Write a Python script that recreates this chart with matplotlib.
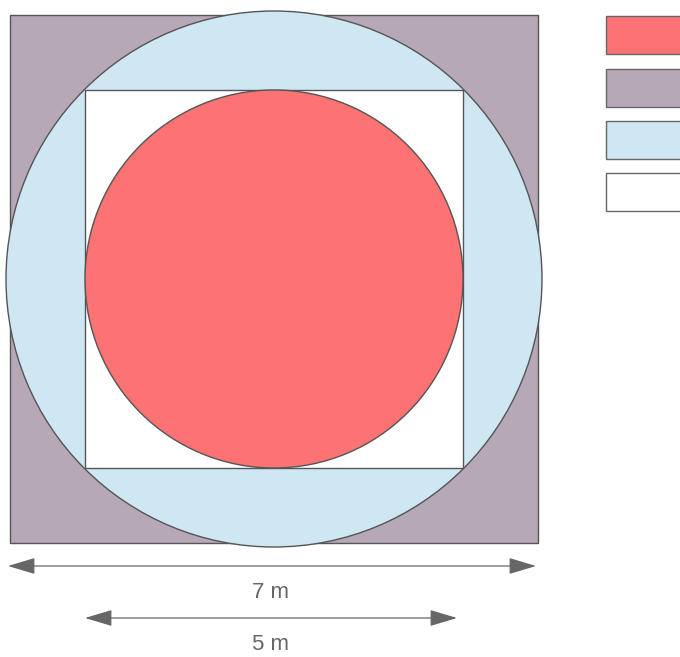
import matplotlib.pyplot as plt
from matplotlib.patches import Rectangle, Circle

# geometry in pixel units (figure is drawn 1:1)
center = (274, 279)
outer_side = 528
inner_side = 378
outer_radius = 268
inner_radius = 189

fill_colors = ["#fd7272", "#b7a8b8", "#cfe7f3", "#ffffff"]
legend_y = [16, 69, 121, 173]
legend_h = 38

arrow_labels = ["7 m", "5 m"]
arrow_x = [(8, 536), (85, 457)]
arrow_y = [566, 618]
label_y = [592, 644]

edge = "#555555"

fig = plt.figure(figsize=(6.8, 6.57), dpi=100)
ax = fig.add_axes([0, 0, 1, 1])
ax.set_xlim(0, 680)
ax.set_ylim(657, 0)
ax.axis("off")

cx, cy = center
ax.add_patch(Rectangle((cx - outer_side / 2, cy - outer_side / 2), outer_side, outer_side,
                       facecolor=fill_colors[1], edgecolor=edge, lw=1))
ax.add_patch(Circle(center, outer_radius, facecolor=fill_colors[2], edgecolor=edge, lw=1))
ax.add_patch(Rectangle((cx - inner_side / 2, cy - inner_side / 2), inner_side, inner_side,
                       facecolor=fill_colors[3], edgecolor=edge, lw=1))
ax.add_patch(Circle(center, inner_radius, facecolor=fill_colors[0], edgecolor=edge, lw=1))

# legend swatches (cut off at the right edge)
for y, c in zip(legend_y, fill_colors):
    ax.add_patch(Rectangle((606, y), 90, legend_h, facecolor=c, edgecolor="#666666", lw=1,
                           clip_on=True))

# dimension arrows
for (x0, x1), y, ly, lab in zip(arrow_x, arrow_y, label_y, arrow_labels):
    ax.annotate("", xy=(x0, y), xytext=(x1, y),
                arrowprops=dict(arrowstyle="<|-|>,head_length=1.0,head_width=0.3",
                                color="#666666", lw=0.9,
                                mutation_scale=17, shrinkA=0, shrinkB=0))
    ax.text(270, ly, lab, ha="center", va="center",
            fontsize=16, color="#666666", family="Liberation Sans")

fig.savefig("out.png", dpi=100)
